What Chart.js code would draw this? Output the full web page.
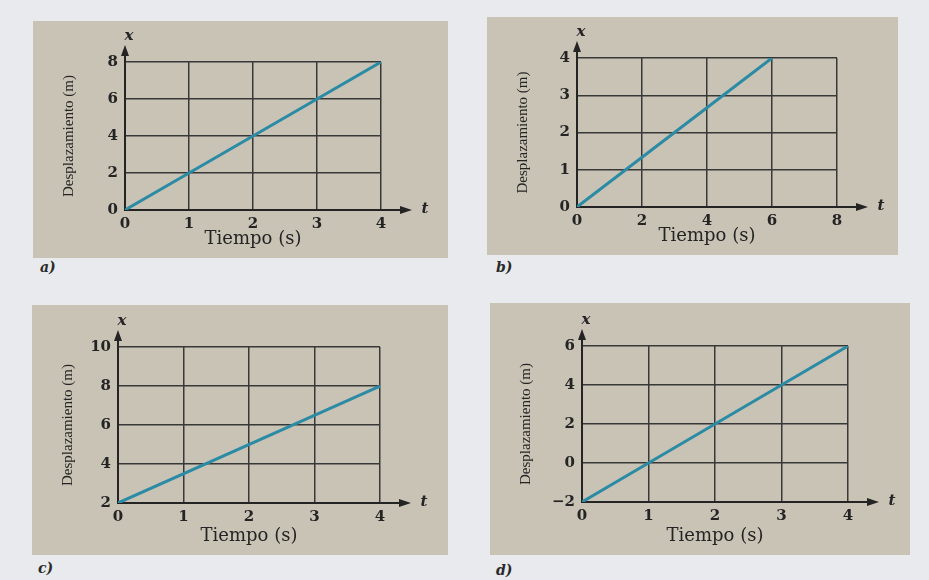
<!DOCTYPE html>
<html lang="es">
<head>
<meta charset="UTF-8">
<script src="https://cdn.jsdelivr.net/npm/chart.js"></script>
<title>Desplazamiento contra tiempo</title>
<style>
  body { margin: 0; background: #e8eaed; width: 929px; height: 580px; position: relative; overflow: hidden; }
  canvas { position: absolute; background: #c9c3b6; }
  .lbl { position: absolute; font: italic bold 14px "DejaVu Serif", serif; color: #2a2a2a; }
</style>
</head>
<body>
<canvas id="chartA" width="415" height="237" style="left:33px;top:21px"></canvas>
<canvas id="chartB" width="411" height="238" style="left:487px;top:17px"></canvas>
<canvas id="chartC" width="416" height="250" style="left:32px;top:305px"></canvas>
<canvas id="chartD" width="420" height="252" style="left:490px;top:303px"></canvas>
<div class="lbl" style="left:40px;top:259px">a)</div>
<div class="lbl" style="left:496px;top:259px">b)</div>
<div class="lbl" style="left:38px;top:560px">c)</div>
<div class="lbl" style="left:496px;top:562px">d)</div>

<script>
// a)
const tiempoA = [0, 1, 2, 3, 4];
const despA = [0, 2, 4, 6, 8];
const xTicksA = [0, 1, 2, 3, 4];
const yTicksA = [0, 2, 4, 6, 8];
// b)
const tiempoB = [0, 6];
const despB = [0, 4];
const xTicksB = [0, 2, 4, 6, 8];
const yTicksB = [0, 1, 2, 3, 4];
// c)
const tiempoC = [0, 4];
const despC = [2, 8];
const xTicksC = [0, 1, 2, 3, 4];
const yTicksC = [2, 4, 6, 8, 10];
// d)
const tiempoD = [0, 1, 2, 3, 4];
const despD = [-2, 0, 2, 4, 6];
const xTicksD = [0, 1, 2, 3, 4];
const yTicksD = [-2, 0, 2, 4, 6];

const ink = '#242424';

// axis arrows + "x" / "t" labels
const arrows = {
    id: 'arrows',
    afterDraw(chart) {
        const {ctx, chartArea: a} = chart;
        ctx.save();
        ctx.strokeStyle = ink;
        ctx.fillStyle = ink;
        ctx.lineWidth = 2;
        ctx.beginPath();
        ctx.moveTo(a.right, a.bottom);
        ctx.lineTo(a.right + 24, a.bottom);
        ctx.moveTo(a.left, a.top);
        ctx.lineTo(a.left, a.top - 10);
        ctx.stroke();
        ctx.beginPath();
        ctx.moveTo(a.right + 31, a.bottom);
        ctx.lineTo(a.right + 19, a.bottom - 4);
        ctx.lineTo(a.right + 19, a.bottom + 4);
        ctx.closePath();
        ctx.fill();
        ctx.beginPath();
        ctx.moveTo(a.left, a.top - 17);
        ctx.lineTo(a.left - 4, a.top - 6);
        ctx.lineTo(a.left + 4, a.top - 6);
        ctx.closePath();
        ctx.fill();
        ctx.font = 'italic bold 15px "DejaVu Serif", serif';
        ctx.textAlign = 'center';
        ctx.textBaseline = 'middle';
        ctx.fillText('t', a.right + 44, a.bottom - 1);
        ctx.fillText('x', a.left + 4, a.top - 26);
        ctx.restore();
    }
};

function makePanel(id, tiempo, desp, xTicks, yTicks, pad) {
    const pts = tiempo.map((t, i) => ({x: t, y: desp[i]}));
    new Chart(document.getElementById(id), {
        type: 'scatter',
        data: {
            datasets: [{
                data: pts,
                showLine: true,
                borderColor: '#2c8ba4',
                borderWidth: 3,
                pointRadius: 0
            }]
        },
        options: {
            responsive: false,
            animation: false,
            layout: { padding: { top: pad.top, right: pad.right, left: 0, bottom: 0 } },
            plugins: { legend: { display: false }, tooltip: { enabled: false } },
            scales: {
                x: {
                    type: 'linear',
                    min: xTicks[0],
                    max: xTicks[xTicks.length - 1],
                    afterFit: (s) => { s.height = pad.bottom; },
                    afterBuildTicks: (s) => { s.ticks = xTicks.map(v => ({value: v})); },
                    grid: { color: '#383838', lineWidth: 1.5, drawTicks: false },
                    border: { color: ink, width: 2 },
                    ticks: {
                        padding: 5,
                        color: ink,
                        font: { family: '"DejaVu Serif", serif', size: 15, weight: 'bold' }
                    },
                    title: {
                        display: true,
                        text: 'Tiempo (s)',
                        color: ink,
                        padding: { top: 0, bottom: 8 },
                        font: { family: '"DejaVu Serif", serif', size: 18 }
                    }
                },
                y: {
                    min: yTicks[0],
                    max: yTicks[yTicks.length - 1],
                    afterFit: (s) => { s.width = pad.left; },
                    afterBuildTicks: (s) => { s.ticks = yTicks.map(v => ({value: v})); },
                    grid: { color: '#383838', lineWidth: 1.5, drawTicks: false },
                    border: { color: ink, width: 2 },
                    ticks: {
                        padding: 7,
                        color: ink,
                        font: { family: '"DejaVu Serif", serif', size: 15, weight: 'bold' },
                        callback: (v) => String(v).replace('-', '\u2212')
                    },
                    title: {
                        display: true,
                        text: 'Desplazamiento (m)',
                        color: ink,
                        padding: { top: 27, bottom: 0 },
                        font: { family: '"Liberation Serif", serif', size: 15 }
                    }
                }
            }
        },
        plugins: [arrows]
    });
}

makePanel('chartA', tiempoA, despA, xTicksA, yTicksA, {left: 92, top: 41, right: 67, bottom: 48});
makePanel('chartB', tiempoB, despB, xTicksB, yTicksB, {left: 90, top: 41, right: 61, bottom: 48});
makePanel('chartC', tiempoC, despC, xTicksC, yTicksC, {left: 86, top: 42, right: 68, bottom: 52});
makePanel('chartD', tiempoD, despD, xTicksD, yTicksD, {left: 92, top: 43, right: 62, bottom: 53});
</script>
</body>
</html>
